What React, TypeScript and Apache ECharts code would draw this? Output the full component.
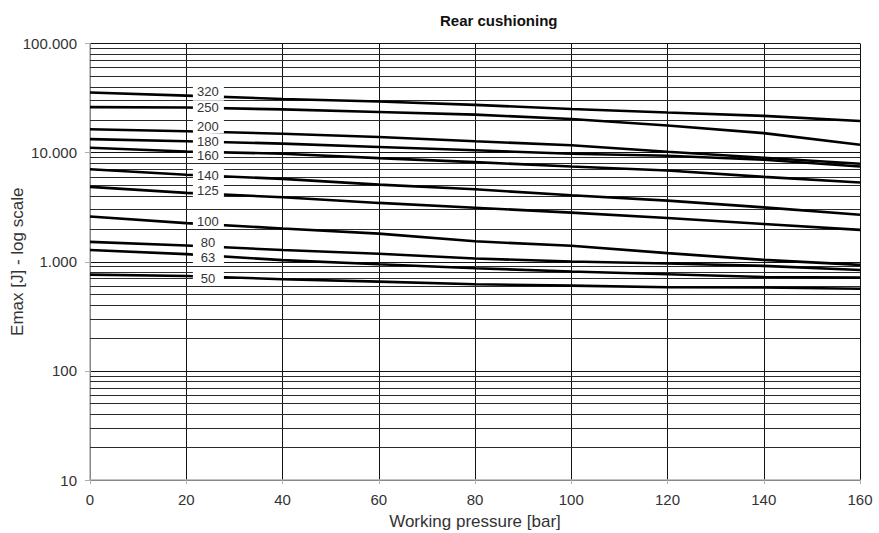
import React, { useEffect, useRef } from "react";
import * as echarts from "echarts";

const pressures = [0, 20, 40, 60, 80, 100, 120, 140, 160];
const boreLabels = ["320", "250", "200", "180", "160", "140", "125", "100", "80", "63", "50"];
const s320 = [35600, 33300, 31000, 29400, 27400, 25100, 23300, 21700, 19500];
const s250 = [26100, 25900, 24900, 23600, 22300, 20300, 17700, 15100, 11800];
const s200 = [16400, 15700, 14900, 13900, 12700, 11700, 10200, 8980, 7900];
const s180 = [13300, 12700, 12100, 11250, 10500, 9770, 9360, 8600, 7470];
const s160 = [11100, 10250, 9770, 8900, 8180, 7470, 6860, 6000, 5320];
const s140 = [7050, 6270, 5750, 5090, 4610, 4070, 3630, 3150, 2700];
const s125 = [4850, 4280, 3900, 3460, 3130, 2820, 2520, 2220, 1960];
const s100 = [2600, 2260, 2020, 1810, 1540, 1400, 1200, 1040, 936];
const s80 = [1520, 1410, 1280, 1183, 1070, 1005, 964, 916, 841];
const s63 = [1280, 1175, 1035, 950, 873, 813, 769, 726, 716];
const s50 = [762, 741, 692, 658, 622, 604, 583, 580, 566];
const curves = [s320, s250, s200, s180, s160, s140, s125, s100, s80, s63, s50];
const minorGridValues = [
  20, 30, 40, 50, 60, 70, 80, 90,
  200, 300, 400, 500, 600, 700, 800, 900,
  2000, 3000, 4000, 5000, 6000, 7000, 8000, 9000,
  20000, 30000, 40000, 50000, 60000, 70000, 80000, 90000,
];
const titleText = "Rear cushioning";
const xTitle = "Working pressure [bar]";
const yTitle = "Emax [J] - log scale";

// style: vertical nudges (px) of the in-line labels so they do not collide
const labelNudge = [-5, -0.7, -5.5, -0.8, 3.5, -0.2, -3.3, -2.8, -3.7, 2.1, 2];

const FONT = "'Liberation Sans', Arial, sans-serif";
const LABEL_X = 24.5;

function valueAt(arr: number[], x: number) {
  // geometric interpolation along the drawn segment (for label placement only)
  for (let i = 0; i < pressures.length - 1; i++) {
    if (x >= pressures[i] && x <= pressures[i + 1]) {
      const t = (x - pressures[i]) / (pressures[i + 1] - pressures[i]);
      return Math.pow(10, Math.log10(arr[i]) * (1 - t) + Math.log10(arr[i + 1]) * t);
    }
  }
  return arr[arr.length - 1];
}

function fmt(v: number) {
  return String(Math.round(v)).replace(/\B(?=(\d{3})+(?!\d))/g, ".");
}

export default function App() {
  const ref = useRef<HTMLDivElement>(null);
  useEffect(() => {
    if (!ref.current) return;
    const chart = echarts.init(ref.current, undefined, { renderer: "svg" });
    const curveSeries = curves.map((arr, idx) => ({
      type: "line",
      name: boreLabels[idx],
      data: arr.map((v, i) => [pressures[i], v]),
      showSymbol: false,
      symbol: "none",
      smooth: false,
      silent: true,
      lineStyle: { color: "#000", width: 2.6 },
      z: 3,
      ...(idx === 0
        ? {
            markLine: {
              silent: true,
              symbol: ["none", "none"],
              label: { show: false },
              lineStyle: { color: "#2a2a2a", width: 1, type: "solid" },
              data: minorGridValues.map((v) => ({ yAxis: v })),
              z: 1,
            },
          }
        : {}),
    }));
    chart.setOption({
      animation: false,
      backgroundColor: "#fff",
      title: {
        text: titleText,
        left: 435,
        top: 8,
        textStyle: { fontSize: 15, fontWeight: "bold", color: "#111", fontFamily: FONT },
      },
      grid: { left: 90, right: 19, top: 43.5, bottom: 53, containLabel: false, outerBoundsMode: "none" },
      xAxis: {
        type: "value",
        min: 0,
        max: 160,
        interval: 20,
        name: xTitle,
        nameLocation: "middle",
        nameGap: 33,
        nameMoveOverlap: false,
        nameTextStyle: { fontSize: 17, color: "#333", fontFamily: FONT },
        axisLine: { show: true, lineStyle: { color: "#b0b0b0", width: 1.5 } },
        axisTick: { show: true, length: 4, lineStyle: { color: "#b0b0b0" } },
        axisLabel: { fontSize: 15, color: "#333", margin: 12, fontFamily: FONT },
        splitLine: { show: true, lineStyle: { color: "#111", width: 1 } },
      },
      yAxis: {
        type: "log",
        logBase: 10,
        min: 10,
        max: 100000,
        name: yTitle,
        nameLocation: "middle",
        nameGap: 64,
        nameMoveOverlap: false,
        nameTextStyle: { fontSize: 17, color: "#333", fontFamily: FONT },
        axisLine: { show: true, lineStyle: { color: "#b0b0b0", width: 1.5 } },
        axisTick: { show: true, length: 5, lineStyle: { color: "#b0b0b0" } },
        axisLabel: { fontSize: 15, color: "#333", margin: 13, fontFamily: FONT, formatter: (v: number) => fmt(v) },
        splitLine: { show: true, lineStyle: { color: "#111", width: 1 } },
      },
      series: curveSeries,
    } as any);

    // in-line curve labels, placed through the chart's own scales
    const labelElements: any[] = [];
    curves.forEach((arr, idx) => {
      const pt = chart.convertToPixel({ gridIndex: 0 } as any, [LABEL_X, valueAt(arr, LABEL_X)]) as number[];
      if (!pt) return;
      const cx = pt[0];
      const cy = pt[1] + labelNudge[idx];
      labelElements.push({
        type: "rect",
        silent: true,
        z: 100,
        shape: { x: cx - 15, y: cy - 7, width: 31, height: 14 },
        style: { fill: "#fff" },
      });
      labelElements.push({
        type: "text",
        silent: true,
        z: 101,
        x: cx,
        y: cy,
        style: {
          text: boreLabels[idx],
          fill: "#333",
          font: `13px ${FONT}`,
          textAlign: "center",
          textVerticalAlign: "middle",
          verticalAlign: "middle",
        },
      });
    });
    chart.setOption({ graphic: { elements: labelElements } } as any);
    return () => chart.dispose();
  }, []);
  return <div ref={ref} style={{ position: "fixed", left: 0, top: 0, width: 879, height: 533 }} />;
}
